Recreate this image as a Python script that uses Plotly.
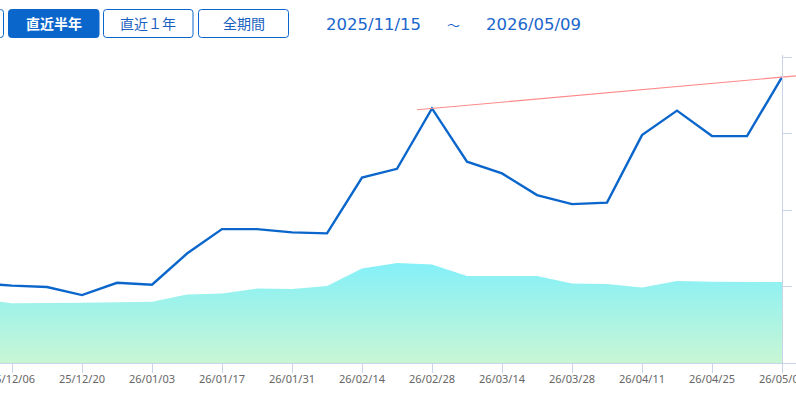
import plotly.graph_objects as go

# ---------------- data ----------------
dates = ["2025-11-15", "2025-11-22", "2025-11-29", "2025-12-06", "2025-12-13", "2025-12-20",
         "2025-12-27", "2026-01-03", "2026-01-10", "2026-01-17", "2026-01-24", "2026-01-31",
         "2026-02-07", "2026-02-14", "2026-02-21", "2026-02-28", "2026-03-07", "2026-03-14",
         "2026-03-21", "2026-03-28", "2026-04-04", "2026-04-11", "2026-04-18", "2026-04-25",
         "2026-05-02", "2026-05-09"]
price = [1.02, 1.04, 1.045, 1.013, 0.994, 0.889, 1.050, 1.024, 1.432, 1.752, 1.752, 1.709,
         1.696, 2.426, 2.541, 3.331, 2.635, 2.481, 2.197, 2.079, 2.099, 2.982, 3.302, 2.969,
         2.969, 3.740]
volume = [0.83, 0.84, 0.842, 0.781, 0.789, 0.789, 0.794, 0.802, 0.896, 0.911, 0.974, 0.968,
          1.007, 1.238, 1.308, 1.288, 1.138, 1.138, 1.138, 1.040, 1.033, 0.987, 1.072, 1.062,
          1.059, 1.059]
trend_dates = ["2026-02-25", "2026-05-12"]
trend_values = [3.313, 3.758]

buttons = ["直近半年", "直近１年", "全期間"]
date_from = "2025/11/15"
date_to = "2026/05/09"

# ---------------- layout helpers ----------------
W, H = 796, 393
T, B, L, R = 55, 30, 0, 0
PW, PH = W - L - R, H - T - B


def px(x):
    return (x - L) / PW


def py(y):
    return (H - B - y) / PH


def rrect(x0, y0, x1, y1, r=3):
    rx, ry = r / PW, r / PH
    X0, X1 = px(x0), px(x1)
    Yt, Yb = py(y0), py(y1)
    return (f"M {X0+rx},{Yt} L {X1-rx},{Yt} Q {X1},{Yt} {X1},{Yt-ry} "
            f"L {X1},{Yb+ry} Q {X1},{Yb} {X1-rx},{Yb} L {X0+rx},{Yb} "
            f"Q {X0},{Yb} {X0},{Yb+ry} L {X0},{Yt-ry} Q {X0},{Yt} {X0+rx},{Yt} Z")


BLUE = "#0b66cc"
AXIS = "#c9d3ea"

fig = go.Figure()

fig.add_trace(go.Scatter(
    x=dates, y=volume, mode="lines", line=dict(width=0),
    fill="tozeroy",
    fillgradient=dict(type="vertical",
                      colorscale=[[0, "#c8f6d4"], [1, "#84f0f8"]]),
    hoverinfo="skip", showlegend=False))

fig.add_trace(go.Scatter(
    x=dates, y=price, mode="lines", line=dict(color=BLUE, width=2.4),
    hoverinfo="skip", showlegend=False))

fig.add_trace(go.Scatter(
    x=trend_dates, y=trend_values, mode="lines",
    line=dict(color="#ff8a8a", width=1.1),
    hoverinfo="skip", showlegend=False))

shapes = []
annotations = []

# partially visible button on the left edge
shapes.append(dict(type="path", xref="paper", yref="paper",
                   path=rrect(-60, 9.5, 3.5, 37.5),
                   line=dict(color=BLUE, width=1), fillcolor="white"))
# buttons
btn_boxes = [(8.5, 99), (103.5, 193), (198.5, 288.5)]
for i, (label, (bx0, bx1)) in enumerate(zip(buttons, btn_boxes)):
    active = i == 0
    shapes.append(dict(type="path", xref="paper", yref="paper",
                       path=rrect(bx0, 9.5, bx1, 37.5),
                       line=dict(color=BLUE, width=1),
                       fillcolor=BLUE if active else "white"))
    annotations.append(dict(
        x=px((bx0 + bx1) / 2), y=py(23.5), xref="paper", yref="paper",
        text=f"<b>{label}</b>" if active else label, showarrow=False,
        xanchor="center", yanchor="middle",
        font=dict(family="Noto Sans CJK JP", size=14,
                  color="white" if active else "#1a5fbf")))

for txt, cx, fam, sz in [(date_from, 373.5, "DejaVu Sans", 16.5),
                         ("～", 453, "Noto Sans CJK JP", 13),
                         (date_to, 533, "DejaVu Sans", 16.5)]:
    annotations.append(dict(
        x=px(cx), y=py(24), xref="paper", yref="paper", text=txt,
        showarrow=False, xanchor="center", yanchor="middle",
        font=dict(family=fam, size=sz, color="#1a66cc")))

fig.update_layout(
    width=W, height=H,
    margin=dict(l=L, r=R, t=T, b=B, pad=0, autoexpand=False),
    paper_bgcolor="white", plot_bgcolor="white",
    shapes=shapes, annotations=annotations,
    showlegend=False,
    xaxis=dict(
        type="date",
        range=["2025-12-03 14:24", "2026-05-11 19:12"],
        tick0="2025-12-06", dtick=14 * 24 * 3600 * 1000,
        tickformat="%y/%m/%d",
        showgrid=False, zeroline=False,
        showline=True, linecolor=AXIS, linewidth=1,
        ticks="outside", ticklen=9, tickcolor=AXIS,
        ticklabeloverflow="allow", automargin=False,
        ticklabelstandoff=-3,
        tickfont=dict(family="Noto Sans", size=11, color="#666666")),
    yaxis=dict(
        range=[0, 4.03], dtick=1, tick0=0,
        anchor="free", position=782 / 796, side="right",
        showgrid=False, zeroline=False, automargin=False,
        showline=True, linecolor=AXIS, linewidth=1,
        ticks="outside", ticklen=9, tickcolor=AXIS,
        showticklabels=False),
)

fig.write_html("out.html")
